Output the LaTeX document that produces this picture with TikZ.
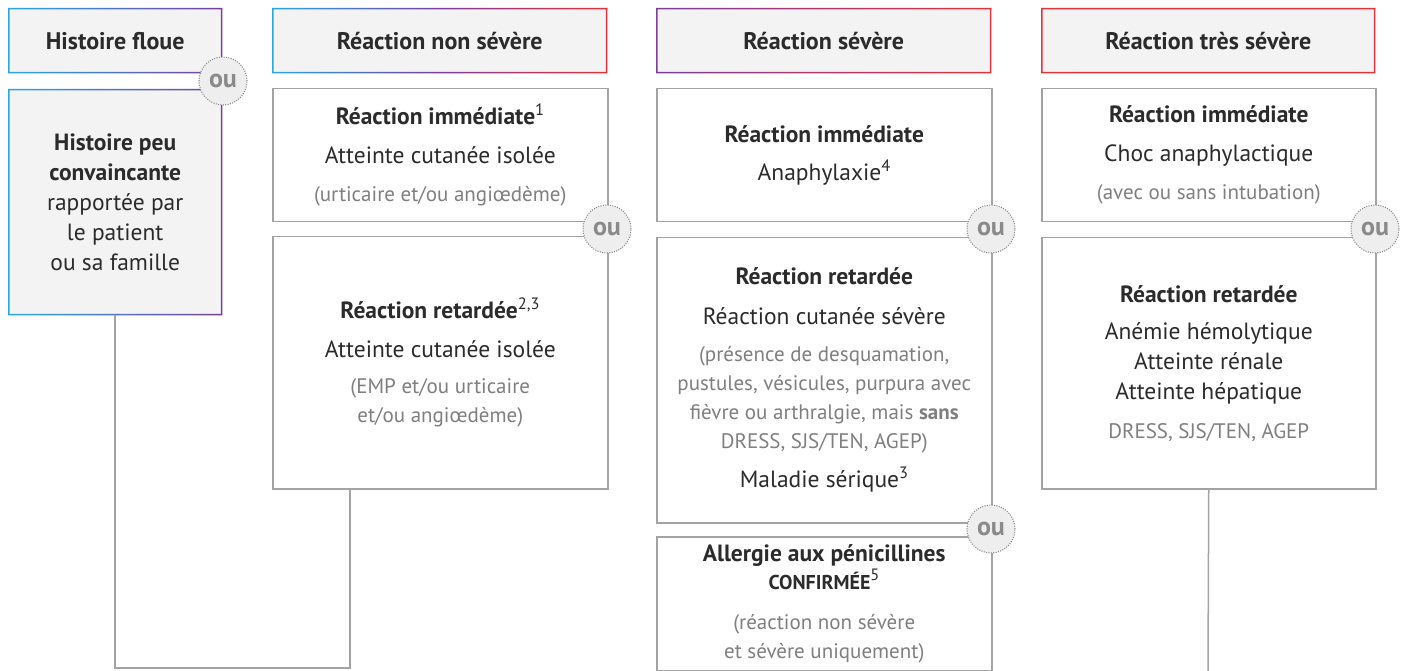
\documentclass[tikz,border=0pt]{standalone}
\usepackage{fontspec}
\setmainfont{PT Sans}
\usetikzlibrary{calc}
\definecolor{txt}{HTML}{2B2B2B}
\definecolor{txtgray}{HTML}{7F7F7F}
\definecolor{bordergray}{HTML}{A3A3A3}
\definecolor{hdrfill}{HTML}{F3F3F3}
\definecolor{oufill}{HTML}{EEEEEE}
\definecolor{oucol}{HTML}{8A8A8A}
\definecolor{cyanC}{HTML}{2AA9E0}
\definecolor{purpleC}{HTML}{7A3E9D}
\definecolor{redC}{HTML}{E2323B}
\newcommand\gr[1]{{\color{txtgray}\fontsize{21}{28}\selectfont #1}}
\newcommand\gframe[3]{%
  \shade[left color=#2,right color=#3,even odd rule]
    (#1.south west) rectangle (#1.north east)
    ([shift={(1.5,-1.5)}]#1.south west) rectangle ([shift={(-1.5,1.5)}]#1.north east);}
\newcommand\gframethree[4]{%
  \shade[left color=#2,right color=#4,middle color=#3,even odd rule]
    (#1.south west) rectangle (#1.north east)
    ([shift={(1.5,-1.5)}]#1.south west) rectangle ([shift={(-1.5,1.5)}]#1.north east);}
\tikzset{
  base/.style={rectangle, anchor=north west, inner sep=0pt, align=center, text=txt,
    font=\fontsize{23.5}{30}\selectfont},
  hdr/.style={base, fill=hdrfill, font=\fontsize{24}{30}\selectfont\bfseries},
  card/.style={base, draw=bordergray, line width=1.5pt, fill=white},
  oubub/.style={circle, minimum size=48pt, inner sep=0pt, fill=oufill, draw=oucol,
    dash pattern=on 1pt off 1.4pt, line width=1.1pt, text=oucol,
    font=\fontsize{26}{26}\selectfont\bfseries},
  link/.style={draw=bordergray, line width=1.5pt}
}
\begin{document}
\begin{tikzpicture}[x=1pt,y=-1pt]
\useasboundingbox (0,0) rectangle (1403,671);
\fill[white] (0,0) rectangle (1403,671);

% column 1
\node[hdr, minimum width=214pt, minimum height=65pt] (h1) at (8,8) {Histoire floue};
\node[base, fill=hdrfill, minimum width=214pt, minimum height=226pt] (b1) at (8,89)
  {\textbf{Histoire peu}\\\textbf{convaincante}\\rapportée par\\le patient\\ou sa famille};

% column 2
\node[hdr, minimum width=335pt, minimum height=65pt] (h2) at (272,8) {Réaction non sévère};
\node[card, minimum width=335pt, minimum height=133pt] (c2a) at (272,88)
  {\textbf{Réaction immédiate}\textsuperscript{1}\\[9pt]Atteinte cutanée isolée\\[8pt]\gr{(urticaire et/ou angiœdème)}};
\node[card, minimum width=335pt, minimum height=252pt] (c2b) at (272,236)
  {\textbf{Réaction retardée}\textsuperscript{2,3}\\[9pt]Atteinte cutanée isolée\\[6pt]\gr{(EMP et/ou urticaire}\\[-1pt]\gr{et/ou angiœdème)}};

% column 3
\node[hdr, minimum width=335pt, minimum height=65pt] (h3) at (656,8) {Réaction sévère};
\node[card, minimum width=335pt, minimum height=133pt] (c3a) at (656,88)
  {\textbf{Réaction immédiate}\\[8pt]Anaphylaxie\textsuperscript{4}};
\node[card, minimum width=335pt, minimum height=285pt] (c3b) at (656,237)
  {\textbf{Réaction retardée}\\[10pt]Réaction cutanée sévère\\[7pt]\gr{(présence de desquamation,}\\[-1pt]\gr{pustules, vésicules, purpura avec}\\[-1pt]\gr{fièvre ou arthralgie, mais \textbf{sans}}\\[-1pt]\gr{DRESS, SJS/TEN, AGEP)}\\[9pt]Maladie sérique\textsuperscript{3}};
\node[card, minimum width=335pt, minimum height=134pt] (c3c) at (656,536)
  {\textbf{Allergie aux pénicillines}\\[-2pt]{\bfseries\fontsize{20}{20}\selectfont CONFIRMÉE}\textsuperscript{5}\\[10pt]\gr{(réaction non sévère}\\[-1pt]\gr{et sévère uniquement)}};

% column 4
\node[hdr, minimum width=334pt, minimum height=65pt] (h4) at (1041,8) {Réaction très sévère};
\node[card, minimum width=334pt, minimum height=133pt] (c4a) at (1041,88)
  {\textbf{Réaction immédiate}\\[9pt]Choc anaphylactique\\[8pt]\gr{(avec ou sans intubation)}};
\node[card, minimum width=334pt, minimum height=251pt] (c4b) at (1041,237)
  {\textbf{Réaction retardée}\\[7pt]Anémie hémolytique\\Atteinte rénale\\Atteinte hépatique\\[9pt]\gr{DRESS, SJS/TEN, AGEP}};

% gradient frames
\gframe{h1}{cyanC}{purpleC}
\gframe{b1}{cyanC}{purpleC}
\gframethree{h2}{cyanC}{purpleC}{redC}
\gframe{h3}{purpleC}{redC}
\gframe{h4}{redC}{redC}

% connectors
\coordinate (k2) at (350,668);
\coordinate (k4) at (1208,671);
\draw[link] (b1.south) -- (b1.south |- k2) -- (k2) -- (k2 |- c2b.south);
\draw[link] (c4b.south) -- (k4);

% "ou" bubbles
\node[oubub] (o1) at (223,81) {ou};
\node[oubub] (o2) at (607,229) {ou};
\node[oubub] (o3) at (991,229) {ou};
\node[oubub] (o4) at (991,529) {ou};
\node[oubub] (o5) at (1375,229) {ou};
\end{tikzpicture}
\end{document}
